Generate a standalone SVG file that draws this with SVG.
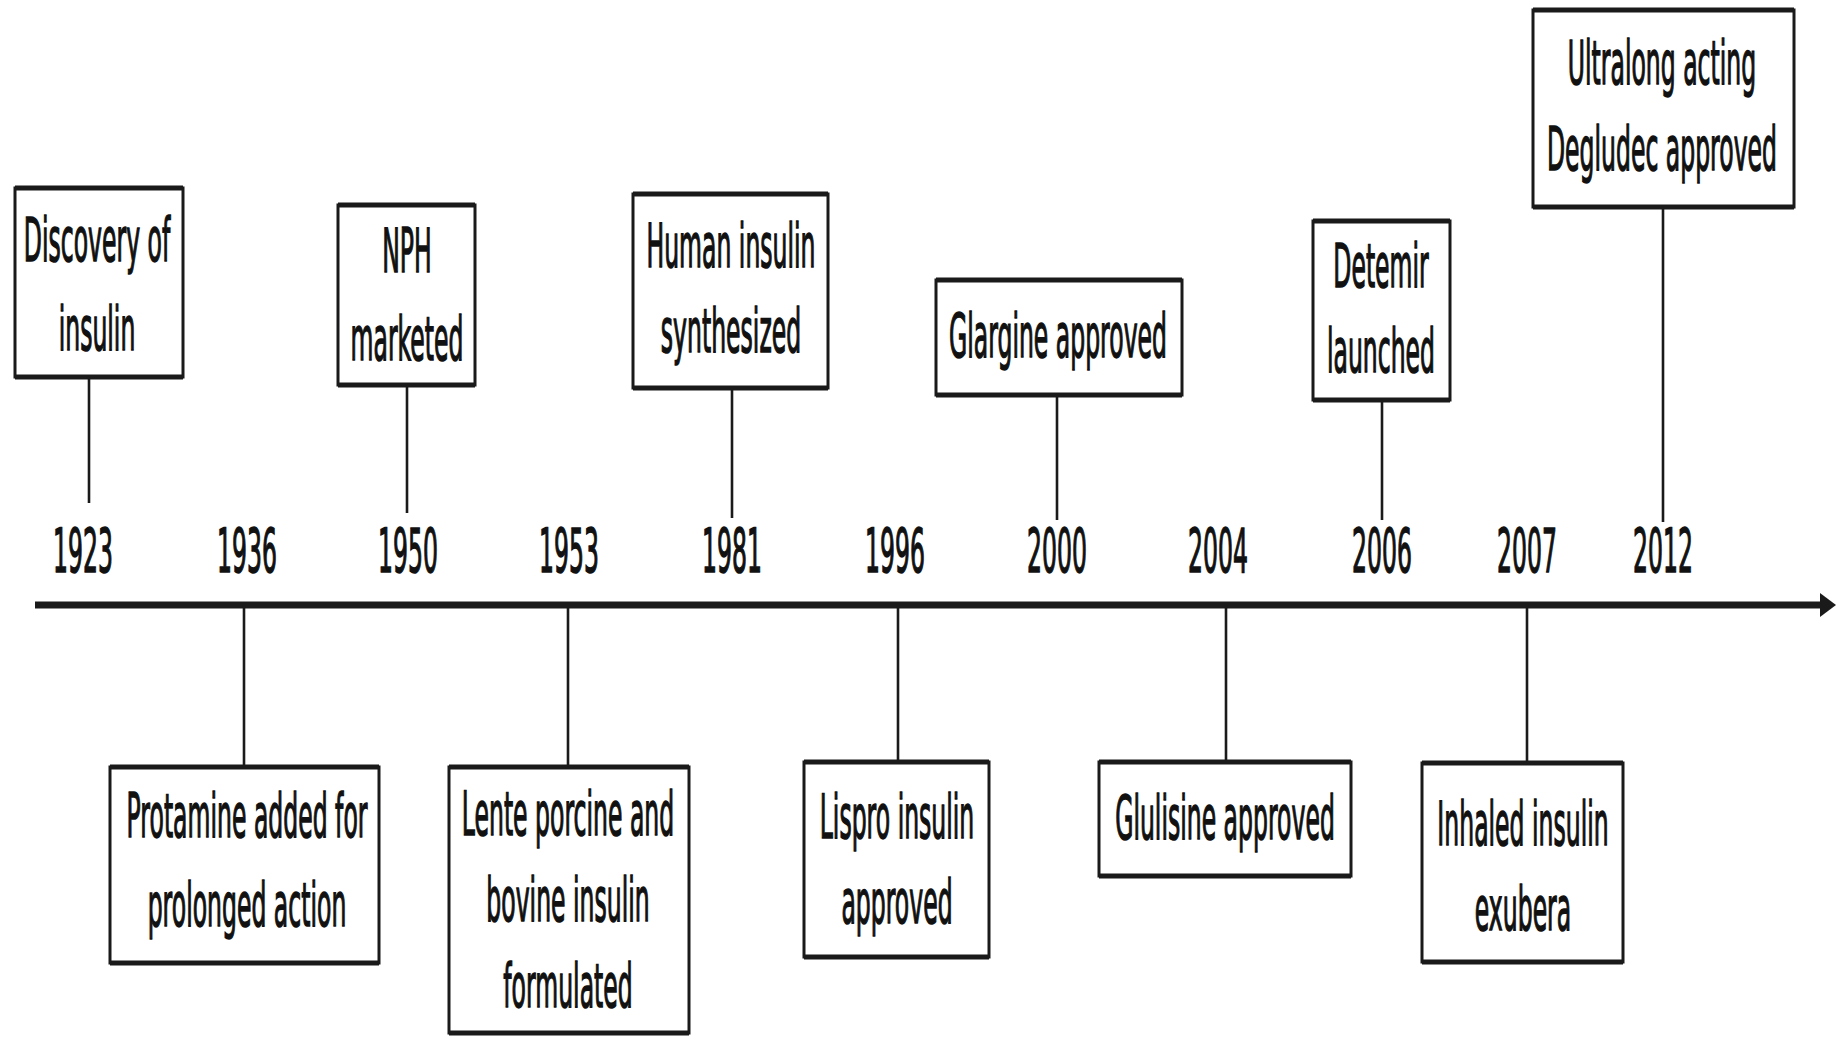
<svg xmlns="http://www.w3.org/2000/svg" width="1841" height="1037" viewBox="0 0 1841 1037">
<defs>
<style>
.bg{fill:#ffffff}
.box{fill:#ffffff;stroke:#1a1a1a;stroke-width:3}
.edge{fill:none;stroke:#1a1a1a;stroke-width:5}
.conn{fill:none;stroke:#1a1a1a;stroke-width:2.6}
.axis{fill:none;stroke:#1a1a1a;stroke-width:7}
.t{font-family:"DejaVu Sans","Verdana",sans-serif;font-size:61px;fill:#111111;stroke:#111111;stroke-width:1.6;text-anchor:middle}
</style>
<marker id="arr" markerUnits="userSpaceOnUse" markerWidth="20" markerHeight="30" refX="2" refY="14" orient="auto">
<polygon points="0,2 16,14 0,26" fill="#1a1a1a"/>
</marker>
</defs>
<rect class="bg" x="0" y="0" width="1841" height="1037"/>

<g id="connectors">
<line class="axis" x1="35" y1="605" x2="1822" y2="605" marker-end="url(#arr)"/>
<line class="conn" x1="89" y1="377" x2="89" y2="503"/>
<line class="conn" x1="407" y1="385" x2="407" y2="513"/>
<line class="conn" x1="732" y1="388" x2="732" y2="518"/>
<line class="conn" x1="1057" y1="395" x2="1057" y2="520"/>
<line class="conn" x1="1382" y1="400" x2="1382" y2="520"/>
<line class="conn" x1="1663" y1="207" x2="1663" y2="522"/>
<line class="conn" x1="244" y1="605" x2="244" y2="767"/>
<line class="conn" x1="568" y1="605" x2="568" y2="767"/>
<line class="conn" x1="898" y1="605" x2="898" y2="762"/>
<line class="conn" x1="1226" y1="605" x2="1226" y2="762"/>
<line class="conn" x1="1527" y1="605" x2="1527" y2="763"/>
</g>

<g id="years">
<text class="t" transform="translate(83,572) scale(0.386,1)">1923</text>
<text class="t" transform="translate(247,572) scale(0.386,1)">1936</text>
<text class="t" transform="translate(408,572) scale(0.386,1)">1950</text>
<text class="t" transform="translate(569,572) scale(0.386,1)">1953</text>
<text class="t" transform="translate(732,572) scale(0.386,1)">1981</text>
<text class="t" transform="translate(895,572) scale(0.386,1)">1996</text>
<text class="t" transform="translate(1057,572) scale(0.386,1)">2000</text>
<text class="t" transform="translate(1218,572) scale(0.386,1)">2004</text>
<text class="t" transform="translate(1382,572) scale(0.386,1)">2006</text>
<text class="t" transform="translate(1527,572) scale(0.386,1)">2007</text>
<text class="t" transform="translate(1663,572) scale(0.386,1)">2012</text>
</g>

<g id="n1923">
<rect class="box" x="15" y="188" width="168" height="189"/>
<path class="edge" d="M15,188H183M15,377H183"/>
<text class="t" transform="translate(97,261) scale(0.386,1)"><tspan x="0" y="0">Discovery of</tspan><tspan x="0" y="89">insulin</tspan></text>
</g>

<g id="n1950">
<rect class="box" x="338" y="205" width="137" height="180"/>
<path class="edge" d="M338,205H475M338,385H475"/>
<text class="t" transform="translate(407,272) scale(0.386,1)"><tspan x="0" y="0">NPH</tspan><tspan x="0" y="88">marketed</tspan></text>
</g>

<g id="n1981">
<rect class="box" x="633" y="194" width="195" height="194"/>
<path class="edge" d="M633,194H828M633,388H828"/>
<text class="t" transform="translate(731,267) scale(0.386,1)"><tspan x="0" y="0">Human insulin</tspan><tspan x="0" y="85">synthesized</tspan></text>
</g>

<g id="n2000">
<rect class="box" x="936" y="280" width="246" height="115"/>
<path class="edge" d="M936,280H1182M936,395H1182"/>
<text class="t" transform="translate(1058,357) scale(0.386,1)">Glargine approved</text>
</g>

<g id="n2006">
<rect class="box" x="1313" y="221" width="137" height="179"/>
<path class="edge" d="M1313,221H1450M1313,400H1450"/>
<text class="t" transform="translate(1381,287) scale(0.386,1)"><tspan x="0" y="0">Detemir</tspan><tspan x="0" y="85">launched</tspan></text>
</g>

<g id="n2012">
<rect class="box" x="1533" y="10" width="261" height="197"/>
<path class="edge" d="M1533,10H1794M1533,207H1794"/>
<text class="t" transform="translate(1662,84) scale(0.386,1)"><tspan x="0" y="0">Ultralong acting</tspan><tspan x="0" y="86">Degludec approved</tspan></text>
</g>

<g id="n1936">
<rect class="box" x="110" y="767" width="269" height="196"/>
<path class="edge" d="M110,767H379M110,963H379"/>
<text class="t" transform="translate(247,837) scale(0.386,1)"><tspan x="0" y="0">Protamine added for</tspan><tspan x="0" y="89">prolonged action</tspan></text>
</g>

<g id="n1953">
<rect class="box" x="449" y="767" width="240" height="266"/>
<path class="edge" d="M449,767H689M449,1033H689"/>
<text class="t" transform="translate(568,835) scale(0.386,1)"><tspan x="0" y="0">Lente porcine and</tspan><tspan x="0" y="86">bovine insulin</tspan><tspan x="0" y="172">formulated</tspan></text>
</g>

<g id="n1996">
<rect class="box" x="804" y="762" width="185" height="195"/>
<path class="edge" d="M804,762H989M804,957H989"/>
<text class="t" transform="translate(897,838) scale(0.386,1)"><tspan x="0" y="0">Lispro insulin</tspan><tspan x="0" y="85">approved</tspan></text>
</g>

<g id="n2004">
<rect class="box" x="1099" y="762" width="252" height="114"/>
<path class="edge" d="M1099,762H1351M1099,876H1351"/>
<text class="t" transform="translate(1225,839) scale(0.386,1)">Glulisine approved</text>
</g>

<g id="n2007">
<rect class="box" x="1422" y="763" width="201" height="199"/>
<path class="edge" d="M1422,763H1623M1422,962H1623"/>
<text class="t" transform="translate(1523,845) scale(0.386,1)"><tspan x="0" y="0">Inhaled insulin</tspan><tspan x="0" y="85">exubera</tspan></text>
</g>
</svg>
